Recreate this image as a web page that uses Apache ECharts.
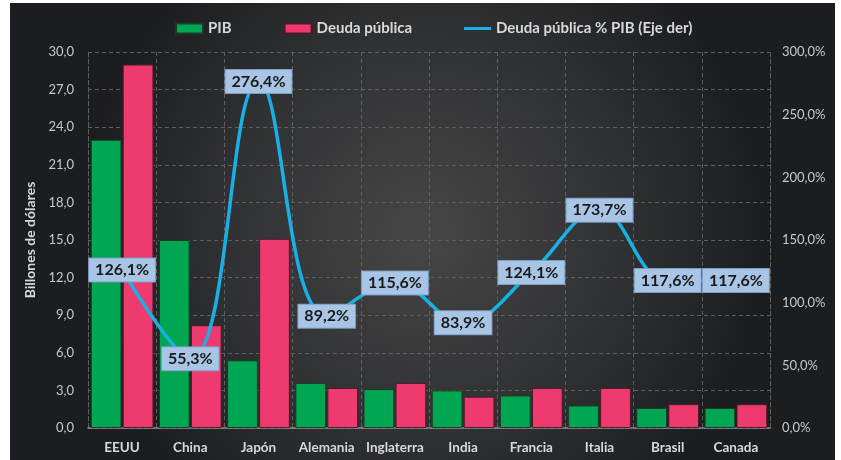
<!DOCTYPE html>
<html>
<head>
<meta charset="utf-8">
<script src="https://cdn.jsdelivr.net/npm/echarts@6/dist/echarts.min.js"></script>
<style>
html,body{margin:0;padding:0;background:#ffffff;width:841px;height:460px;overflow:hidden;}
#chart{position:absolute;left:10px;top:3px;width:825px;height:457px;}
</style>
</head>
<body>
<div id="chart"></div>
<script>
const categories = ['EEUU','China','Japón','Alemania','Inglaterra','India','Francia','Italia','Brasil','Canada'];
const pib = [23.0, 15.0, 5.4, 3.6, 3.1, 3.0, 2.6, 1.8, 1.6, 1.6];
const deuda = [29.0, 8.2, 15.1, 3.2, 3.6, 2.5, 3.2, 3.2, 1.9, 1.9];
const deudaPct = [126.1, 55.3, 276.4, 89.2, 115.6, 83.9, 124.1, 173.7, 117.6, 117.6];
const leftTicks = {min: 0, max: 30, interval: 3};
const rightTicks = {min: 0, max: 300, interval: 50};

const FONT = 'Lato';
const chart = echarts.init(document.getElementById('chart'));
const fmtComma = (v, d) => v.toFixed(d).replace('.', ',');

chart.setOption({
  backgroundColor: {
    type: 'radial', x: 0.5, y: 0.5, r: 0.75,
    colorStops: [
      {offset: 0, color: '#464646'},
      {offset: 0.6, color: '#2f3032'},
      {offset: 1, color: '#1b1d20'}
    ]
  },
  textStyle: {fontFamily: FONT},
  legend: {
    top: 13, left: 160,
    itemWidth: 27, itemHeight: 10, itemGap: 52,
    textStyle: {color: '#d9d9d9', fontSize: 15, fontWeight: 'bold', fontFamily: FONT},
    data: [
      {name: 'PIB', icon: 'rect'},
      {name: 'Deuda pública', icon: 'rect'},
      {name: 'Deuda pública % PIB (Eje der)', icon: 'path://M0 0 L0.01 0 L0.01 0.01 Z M0 3.4 L30 3.4 L30 6.6 L0 6.6 Z M0 10 L0.01 10 L0.01 9.99 Z'}
    ]
  },
  grid: {left: 78, right: 65, top: 49, bottom: 32, containLabel: false},
  xAxis: {
    type: 'category', data: categories,
    axisLine: {lineStyle: {color: '#8a8a8a', width: 1.5}},
    axisTick: {show: false},
    axisLabel: {color: '#d9d9d9', fontSize: 13.5, fontWeight: 'bold', margin: 13, fontFamily: FONT, interval: 0},
    splitLine: {show: true, interval: 0, lineStyle: {color: '#5e5e5e', type: [4, 3]}}
  },
  yAxis: [
    {
      type: 'value', min: leftTicks.min, max: leftTicks.max, interval: leftTicks.interval,
      name: 'Billones de dólares', nameLocation: 'middle', nameGap: 48, nameRotate: 90,
      nameTextStyle: {color: '#d9d9d9', fontSize: 14, fontWeight: 'bold', fontFamily: FONT},
      axisLine: {show: true, lineStyle: {color: '#5e5e5e', type: [4, 3]}},
      axisTick: {show: false},
      axisLabel: {color: '#c8c8c8', fontSize: 13, margin: 14, fontFamily: FONT, formatter: v => fmtComma(v, 1)},
      splitLine: {show: true, lineStyle: {color: '#5e5e5e', type: [4, 3]}}
    },
    {
      type: 'value', min: rightTicks.min, max: rightTicks.max, interval: rightTicks.interval,
      axisLine: {show: true, lineStyle: {color: '#5e5e5e', type: [4, 3]}},
      axisTick: {show: false},
      axisLabel: {color: '#c8c8c8', fontSize: 13, margin: 12, fontFamily: FONT, formatter: v => fmtComma(v, 1) + '%'},
      splitLine: {show: false}
    }
  ],
  series: [
    {
      name: 'PIB', type: 'bar', data: pib, yAxisIndex: 0,
      barCategoryGap: '8%', barGap: '4%',
      itemStyle: {color: '#00a651', borderColor: '#1c3a28', borderWidth: 1}
    },
    {
      name: 'Deuda pública', type: 'bar', data: deuda, yAxisIndex: 0,
      itemStyle: {color: '#ee3a6f', borderColor: '#4a1c2a', borderWidth: 1}
    },
    {
      name: 'Deuda pública % PIB (Eje der)', type: 'line', data: deudaPct, yAxisIndex: 1,
      smooth: 0.4, symbol: 'circle', symbolSize: 0, showSymbol: true, z: 5,
      lineStyle: {color: '#19b0e6', width: 3.5},
      itemStyle: {color: '#19b0e6'},
      label: {
        show: true, position: 'inside',
        formatter: p => fmtComma(p.value, 1) + '%',
        color: '#1a1a1a', fontSize: 16, fontWeight: 'bold', fontFamily: FONT,
        backgroundColor: '#a9c5e6', borderColor: '#7d9cc3', borderWidth: 1,
        padding: [4, 6, 3, 6]
      }
    }
  ]
});
</script>
</body>
</html>
